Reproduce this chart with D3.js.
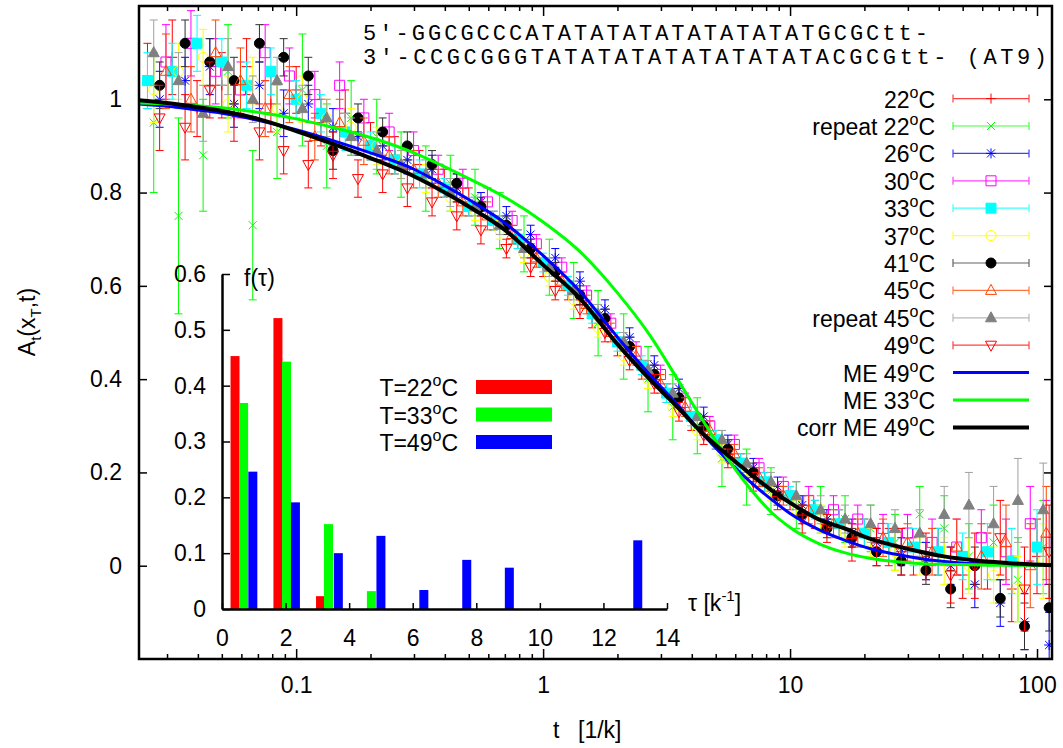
<!DOCTYPE html>
<html>
<head>
<meta charset="utf-8">
<script src="https://cdnjs.cloudflare.com/ajax/libs/d3/7.8.5/d3.min.js"></script>
<style>
body { margin: 0; background: #fff; }
svg { font-family: "Liberation Sans", Arial, sans-serif; }
</style>
</head>
<body>
<div id="plot"></div>
<script>
// time grids (four interleaved log grids, in 1/k)
var tA = [0.025,0.0315,0.0397,0.05,0.063,0.079,0.1,0.126,0.158,0.2,0.251,0.316,0.398,0.5,0.63,0.79,1,1.26,1.58,2,2.51,3.16,3.98,5,6.3,7.9,10,12.6,15.8,20,25.1,31.6,39.8,50,63,79,100];
var tB = [0.028,0.0355,0.0447,0.056,0.071,0.089,0.112,0.141,0.178,0.224,0.282,0.355,0.447,0.56,0.71,0.89,1.12,1.41,1.78,2.24,2.82,3.55,4.47,5.6,7.1,8.9,11.2,14.1,17.8,22.4,28.2,35.5,44.7,56,71,89,112];
var tC = [0.0265,0.0334,0.042,0.053,0.0667,0.0837,0.106,0.133,0.167,0.212,0.266,0.335,0.421,0.53,0.667,0.837,1.06,1.33,1.67,2.12,2.66,3.35,4.21,5.3,6.67,8.37,10.6,13.3,16.7,21.2,26.6,33.5,42.1,53,66.7,83.7,106];
var tD = [0.0297,0.0375,0.0472,0.0595,0.0749,0.0939,0.119,0.15,0.188,0.238,0.299,0.376,0.473,0.595,0.749,0.939,1.19,1.5,1.88,2.38,2.99,3.76,4.73,5.95,7.49,9.39,11.9,15,18.8,23.8,29.9,37.6,47.3,59.5,74.9,93.9,109];

// measured A_t values and error bars per temperature
var y22 = [1.05,1.09,0.98,1.03,1.07,0.99,1.02,0.95,0.97,0.91,0.88,0.86,0.82,0.78,0.74,0.70,0.64,0.59,0.53,0.47,0.42,0.37,0.31,0.27,0.22,0.18,0.14,0.11,0.09,0.07,0.04,0.02,0.03,-0.02,0.01,-0.05,0.02];
var e22 = [0.07,0.08,0.06,0.07,0.06,0.06,0.05,0.05,0.05,0.04,0.04,0.03,0.03,0.03,0.02,0.02,0.02,0.02,0.02,0.02,0.02,0.02,0.02,0.02,0.02,0.02,0.02,0.03,0.03,0.03,0.04,0.04,0.05,0.05,0.06,0.07,0.08];
var y22r = [0.95,0.75,0.88,1.06,0.73,0.93,1.02,0.90,0.96,0.92,0.86,0.83,0.82,0.79,0.74,0.69,0.64,0.59,0.52,0.47,0.40,0.34,0.30,0.23,0.19,0.16,0.13,0.12,0.10,0.08,0.05,0.11,0.08,0.02,0.05,-0.03,0.04];
var e22r = [0.15,0.21,0.12,0.10,0.16,0.10,0.12,0.09,0.08,0.08,0.07,0.07,0.06,0.06,0.06,0.06,0.06,0.06,0.07,0.07,0.07,0.07,0.06,0.06,0.06,0.05,0.05,0.05,0.05,0.05,0.06,0.06,0.07,0.07,0.08,0.09,0.10];
var y26 = [1.00,1.04,1.07,0.99,1.03,0.97,0.99,0.94,0.92,0.90,0.87,0.85,0.81,0.78,0.75,0.71,0.66,0.61,0.55,0.49,0.43,0.38,0.32,0.26,0.21,0.17,0.13,0.10,0.07,0.05,0.03,0.01,0.00,-0.04,-0.08,-0.12,-0.17];
var e26 = [0.06,0.05,0.06,0.05,0.05,0.05,0.04,0.04,0.04,0.03,0.03,0.03,0.03,0.02,0.02,0.02,0.02,0.02,0.02,0.02,0.02,0.02,0.02,0.02,0.02,0.02,0.02,0.02,0.03,0.03,0.03,0.04,0.04,0.05,0.05,0.06,0.07];
var y30 = [1.08,1.12,1.06,1.02,1.10,1.05,1.01,1.03,0.96,0.93,0.89,0.85,0.82,0.78,0.74,0.69,0.64,0.58,0.52,0.46,0.41,0.35,0.30,0.26,0.21,0.17,0.14,0.12,0.10,0.08,0.07,0.05,0.04,0.06,0.03,0.09,0.05];
var e30 = [0.08,0.07,0.07,0.06,0.06,0.06,0.05,0.05,0.04,0.04,0.04,0.03,0.03,0.03,0.02,0.02,0.02,0.02,0.02,0.02,0.02,0.02,0.02,0.02,0.02,0.02,0.03,0.03,0.03,0.03,0.04,0.05,0.06,0.06,0.07,0.08,0.09];
var y33 = [1.04,1.06,1.12,1.08,1.03,1.06,1.00,0.97,0.93,0.90,0.87,0.84,0.81,0.77,0.74,0.70,0.65,0.60,0.54,0.48,0.43,0.37,0.32,0.27,0.22,0.18,0.15,0.12,0.09,0.07,0.05,0.04,0.03,0.02,0.03,0.01,0.04];
var e33 = [0.06,0.06,0.06,0.05,0.05,0.05,0.04,0.04,0.04,0.03,0.03,0.03,0.02,0.02,0.02,0.02,0.02,0.02,0.02,0.02,0.02,0.02,0.02,0.02,0.02,0.02,0.02,0.02,0.03,0.03,0.04,0.04,0.05,0.05,0.06,0.07,0.08];
var y37 = [1.02,1.06,1.09,0.99,1.04,0.98,1.00,0.96,0.94,0.90,0.86,0.83,0.79,0.76,0.72,0.67,0.62,0.57,0.51,0.45,0.40,0.34,0.29,0.24,0.20,0.16,0.12,0.10,0.07,0.05,0.03,0.02,0.01,0.00,-0.02,-0.05,0.01];
var e37 = [0.07,0.06,0.06,0.06,0.05,0.05,0.05,0.04,0.04,0.04,0.03,0.03,0.03,0.02,0.02,0.02,0.02,0.02,0.02,0.02,0.02,0.02,0.02,0.02,0.02,0.02,0.02,0.03,0.03,0.03,0.04,0.04,0.05,0.06,0.06,0.07,0.08];
var y41 = [1.03,1.12,1.08,1.04,1.12,1.09,1.05,0.89,0.96,0.93,0.90,0.86,0.82,0.77,0.73,0.68,0.63,0.58,0.53,0.47,0.41,0.36,0.30,0.25,0.20,0.15,0.11,0.08,0.06,0.03,0.01,-0.01,-0.05,0.00,-0.07,-0.13,-0.09];
var e41 = [0.05,0.05,0.05,0.05,0.04,0.04,0.04,0.04,0.03,0.03,0.03,0.03,0.02,0.02,0.02,0.02,0.02,0.02,0.02,0.02,0.02,0.02,0.02,0.02,0.02,0.02,0.02,0.02,0.02,0.03,0.03,0.03,0.04,0.04,0.04,0.05,0.05];
var y45 = [1.06,1.00,1.10,1.04,0.98,1.01,0.92,0.95,0.91,0.88,0.85,0.82,0.78,0.75,0.71,0.66,0.61,0.56,0.50,0.45,0.39,0.34,0.29,0.24,0.19,0.15,0.12,0.09,0.07,0.06,0.05,0.03,0.04,0.02,0.05,0.00,0.07];
var e45 = [0.08,0.07,0.07,0.07,0.06,0.06,0.05,0.05,0.05,0.04,0.04,0.03,0.03,0.03,0.02,0.02,0.02,0.02,0.02,0.02,0.02,0.02,0.02,0.02,0.02,0.02,0.03,0.03,0.03,0.04,0.04,0.05,0.06,0.07,0.08,0.09,0.10];
var y45r = [1.10,1.04,0.97,1.07,1.00,1.04,0.98,0.96,0.92,0.89,0.86,0.84,0.80,0.77,0.73,0.68,0.64,0.59,0.54,0.48,0.42,0.37,0.32,0.27,0.22,0.18,0.15,0.12,0.10,0.09,0.08,0.07,0.11,0.13,0.09,0.14,0.12];
var e45r = [0.07,0.06,0.06,0.06,0.05,0.05,0.05,0.04,0.04,0.04,0.03,0.03,0.03,0.02,0.02,0.02,0.02,0.02,0.02,0.02,0.02,0.02,0.02,0.02,0.02,0.02,0.03,0.03,0.03,0.04,0.04,0.05,0.06,0.07,0.08,0.09,0.10];
var y49 = [0.96,0.94,1.02,0.97,0.93,0.89,0.86,0.88,0.83,0.84,0.81,0.78,0.75,0.72,0.68,0.64,0.59,0.55,0.50,0.44,0.39,0.33,0.28,0.23,0.18,0.14,0.10,0.08,0.05,0.04,0.03,0.02,-0.02,0.00,0.06,-0.05,0.03];
var e49 = [0.07,0.07,0.06,0.06,0.06,0.05,0.05,0.05,0.04,0.04,0.04,0.03,0.03,0.03,0.02,0.02,0.02,0.02,0.02,0.02,0.02,0.02,0.02,0.02,0.02,0.02,0.03,0.03,0.04,0.04,0.05,0.05,0.06,0.07,0.08,0.09,0.10];

// model curves (multi-exponential fits)
var curveT = [0.023,0.03,0.04,0.05,0.07,0.1,0.14,0.2,0.3,0.4,0.5,0.7,1,1.4,2,2.7,3.5,4.3,5.5,6.9,8.5,10,13,16.6,21,26.5,33,42,55,67,85,115];
var me49 = [0.99,0.985,0.977,0.97,0.955,0.935,0.912,0.885,0.85,0.815,0.785,0.735,0.665,0.59,0.49,0.41,0.345,0.29,0.23,0.18,0.14,0.112,0.078,0.055,0.037,0.025,0.016,0.009,0.004,0.003,0.002,0.001];
var me33 = [0.992,0.99,0.986,0.982,0.972,0.958,0.94,0.918,0.885,0.855,0.83,0.79,0.737,0.675,0.585,0.495,0.40,0.323,0.235,0.165,0.112,0.082,0.048,0.028,0.016,0.009,0.005,0.003,0.002,0.001,0.001,0.001];
var corr49 = [0.998,0.992,0.983,0.975,0.958,0.932,0.905,0.874,0.835,0.80,0.77,0.72,0.645,0.575,0.475,0.40,0.34,0.29,0.24,0.197,0.16,0.135,0.10,0.08,0.058,0.043,0.031,0.02,0.012,0.008,0.004,0.001];

// inset: distribution of relaxation times f(tau)
var tau22 = [0.41,1.76,3.10];
var f22 = [0.453,0.521,0.023];
var tau33 = [0.68,2.03,3.35,4.70];
var f33 = [0.369,0.443,0.152,0.032];
var tau49 = [0.97,2.31,3.66,5.00,6.35,7.70,9.04,13.08];
var f49 = [0.246,0.191,0.100,0.131,0.034,0.088,0.074,0.123];

var seriesLabels = ["22", "repeat 22", "26", "30", "33", "37", "41", "45", "repeat 45", "49"];

var W = 1063, H = 748;
var L = 139, R = 1052, T = 6, B = 659;

var svg = d3.select("#plot").append("svg").attr("width", W).attr("height", H);

var x = d3.scaleLog().domain([0.0231, 115]).range([L, R]);
var y = d3.scaleLinear().domain([-0.2, 1.2]).range([B, T]);

svg.append("defs").append("clipPath").attr("id", "clip")
	.append("rect").attr("x", L).attr("y", T).attr("width", R - L).attr("height", B - T);

// marker shapes
function mk(kind) {
	switch (kind) {
		case "plus": return "M-5,0H5M0,-5V5";
		case "cross": return "M-4,-4L4,4M-4,4L4,-4";
		case "star": return "M-5,0H5M0,-5V5M-4,-4L4,4M-4,4L4,-4";
		case "square": return "M-5,-5H5V5H-5Z";
		case "circle": return "M5,0A5,5 0 1,1 -5,0A5,5 0 1,1 5,0Z";
		case "tri": return "M0,-6L5.5,4H-5.5Z";
		case "itri": return "M0,6L5.5,-4H-5.5Z";
	}
}

var series = [
	{t: tA, y: y22, e: e22, bar: "#ff0000", col: "#ff0000", shape: "plus", fill: false},
	{t: tC, y: y22r, e: e22r, bar: "#00ff00", col: "#00ff00", shape: "cross", fill: false},
	{t: tB, y: y26, e: e26, bar: "#0000ff", col: "#0000ff", shape: "star", fill: false},
	{t: tD, y: y30, e: e30, bar: "#ff00ff", col: "#ff00ff", shape: "square", fill: false},
	{t: tA, y: y33, e: e33, bar: "#00ffff", col: "#00ffff", shape: "square", fill: true},
	{t: tC, y: y37, e: e37, bar: "#ffff00", col: "#ffff00", shape: "circle", fill: false},
	{t: tB, y: y41, e: e41, bar: "#303030", col: "#000000", shape: "circle", fill: true},
	{t: tD, y: y45, e: e45, bar: "#ff4500", col: "#ff4500", shape: "tri", fill: false},
	{t: tC, y: y45r, e: e45r, bar: "#a0a0a0", col: "#808080", shape: "tri", fill: true},
	{t: tB, y: y49, e: e49, bar: "#ff0000", col: "#ff0000", shape: "itri", fill: false}
];

var data = svg.append("g").attr("clip-path", "url(#clip)");

series.forEach(function(s) {
	var g = data.append("g");
	var pts = s.t.map(function(t, i) { return {t: t, v: s.y[i], e: s.e[i]}; });
	g.selectAll(".eb").data(pts).enter().append("path")
		.attr("fill", "none").attr("stroke", s.bar).attr("stroke-width", 1)
		.attr("d", function(d) {
			var px = x(d.t), y0 = y(d.v - d.e), y1 = y(d.v + d.e);
			return "M" + px + "," + y0 + "V" + y1 + "M" + (px - 4) + "," + y0 + "H" + (px + 4) + "M" + (px - 4) + "," + y1 + "H" + (px + 4);
		});
	g.selectAll(".pt").data(pts).enter().append("path")
		.attr("transform", function(d) { return "translate(" + x(d.t) + "," + y(d.v) + ")"; })
		.attr("d", mk(s.shape))
		.attr("fill", s.fill ? s.col : "none")
		.attr("stroke", s.col).attr("stroke-width", 1);
});

// model curves
var line = d3.line().x(function(d) { return x(d[0]); }).y(function(d) { return y(d[1]); }).curve(d3.curveMonotoneX);
var curves = [
	{v: me49, col: "#0000ff", w: 3},
	{v: me33, col: "#00ff00", w: 3},
	{v: corr49, col: "#000000", w: 4}
];
curves.forEach(function(c) {
	data.append("path")
		.datum(curveT.map(function(t, i) { return [t, c.v[i]]; }))
		.attr("fill", "none").attr("stroke", c.col).attr("stroke-width", c.w)
		.attr("d", line);
});

// axes
var majorX = [0.1, 1, 10, 100];
var minorX = [];
[0.01, 0.1, 1, 10].forEach(function(dec) {
	for (var k = 2; k <= 9; k++) {
		var v = dec * k;
		if (v > 0.0231 && v < 115) minorX.push(v);
	}
});

function styleAxis(g) {
	g.select(".domain").remove();
	g.selectAll("line").attr("stroke", "#000").attr("stroke-width", 1.5);
	g.selectAll("text").attr("font-size", 23).attr("fill", "#000").attr("font-family", "Liberation Sans, Arial, sans-serif");
}

svg.append("g").attr("transform", "translate(0," + B + ")")
	.call(d3.axisBottom(x).tickValues(majorX).tickSize(-10).tickPadding(18).tickFormat(d3.format("~g")))
	.call(styleAxis);
svg.append("g").attr("transform", "translate(0," + B + ")")
	.call(d3.axisBottom(x).tickValues(minorX).tickSize(-5).tickFormat(""))
	.call(styleAxis);
svg.append("g").attr("transform", "translate(0," + T + ")")
	.call(d3.axisTop(x).tickValues(majorX).tickSize(-10).tickFormat(""))
	.call(styleAxis);
svg.append("g").attr("transform", "translate(0," + T + ")")
	.call(d3.axisTop(x).tickValues(minorX).tickSize(-5).tickFormat(""))
	.call(styleAxis);

var yTicks = [0, 0.2, 0.4, 0.6, 0.8, 1];
svg.append("g").attr("transform", "translate(" + L + ",0)")
	.call(d3.axisLeft(y).tickValues(yTicks).tickSize(-8).tickPadding(17).tickFormat(d3.format("~g")))
	.call(styleAxis);
svg.append("g").attr("transform", "translate(" + R + ",0)")
	.call(d3.axisRight(y).tickValues(yTicks).tickSize(-8).tickFormat(""))
	.call(styleAxis);

svg.append("rect").attr("x", L).attr("y", T).attr("width", R - L).attr("height", B - T)
	.attr("fill", "none").attr("stroke", "#000").attr("stroke-width", 2.5);

// axis titles
svg.append("text").attr("x", 553).attr("y", 738).attr("font-size", 23)
	.call(function(t) {
		t.append("tspan").text("t");
		t.append("tspan").attr("x", 578).text("[1/k]");
	});

var yl = svg.append("text").attr("transform", "translate(35,322) rotate(-90)")
	.attr("text-anchor", "middle").attr("font-size", 23);
yl.append("tspan").text("A");
yl.append("tspan").attr("font-size", 15).attr("dy", 6).text("t");
yl.append("tspan").attr("dy", -6).text("(x");
yl.append("tspan").attr("font-size", 15).attr("dy", 6).text("T");
yl.append("tspan").attr("dy", -6).text(",t)");

// sequence annotation
var seq = svg.append("g").attr("font-family", "Liberation Mono, monospace").attr("font-size", 22);
seq.append("text").attr("x", 363).attr("y", 40).attr("textLength", 565).attr("lengthAdjust", "spacing")
	.text("5\u2032-GGCGCCCATATATATATATATATATGCGCtt-");
seq.append("text").attr("x", 363).attr("y", 64).attr("textLength", 684).attr("lengthAdjust", "spacing")
	.attr("xml:space", "preserve")
	.text("3\u2032-CCGCGGGTATATATATATATATATACGCGtt- (AT9)");

// label with raised "o" before the C
function degLabel(sel, pre) {
	sel.append("tspan").text(pre);
	sel.append("tspan").attr("font-size", 16).attr("dy", -10).text("o");
	sel.append("tspan").attr("dy", 10).text("C");
}

// main legend
var legX0 = 953, legX1 = 1029, legTx = 935, leg0 = 98.6, legDy = 27.4;
var leg = svg.append("g");
series.forEach(function(s, i) {
	var ly = leg0 + legDy * i;
	var g = leg.append("g");
	g.append("path").attr("fill", "none").attr("stroke", s.bar).attr("stroke-width", 1.2).attr("stroke-opacity", 0.75)
		.attr("d", "M" + legX0 + "," + ly + "H" + legX1 + "M" + legX0 + "," + (ly - 4) + "V" + (ly + 4) + "M" + legX1 + "," + (ly - 4) + "V" + (ly + 4));
	g.append("path").attr("transform", "translate(" + (legX0 + legX1) / 2 + "," + ly + ")")
		.attr("d", mk(s.shape)).attr("fill", s.fill ? s.col : "none").attr("stroke", s.col);
	var tx = g.append("text").attr("x", legTx).attr("y", ly + 9).attr("text-anchor", "end").attr("font-size", 23);
	degLabel(tx, seriesLabels[i]);
});
var curveLabels = ["ME 49", "ME 33", "corr ME 49"];
curves.forEach(function(c, j) {
	var ly = leg0 + legDy * (10 + j);
	leg.append("line").attr("x1", legX0).attr("x2", legX1).attr("y1", ly).attr("y2", ly)
		.attr("stroke", c.col).attr("stroke-width", c.w);
	var tx = leg.append("text").attr("x", legTx).attr("y", ly + 9).attr("text-anchor", "end").attr("font-size", 23);
	degLabel(tx, curveLabels[j]);
});

// inset histogram
var xi = d3.scaleLinear().domain([0, 14]).range([222, 667]);
var yi = d3.scaleLinear().domain([0, 0.6]).range([609, 274]);
var inset = svg.append("g");

var bars = [
	{tau: tau22, f: f22, col: "#ff0000"},
	{tau: tau33, f: f33, col: "#00ff00"},
	{tau: tau49, f: f49, col: "#0000ff"}
];
bars.forEach(function(b) {
	inset.selectAll(null).data(b.tau).enter().append("rect")
		.attr("x", function(d) { return xi(d) - 4.5; })
		.attr("width", 9)
		.attr("y", function(d, i) { return yi(b.f[i]); })
		.attr("height", function(d, i) { return yi(0) - yi(b.f[i]); })
		.attr("fill", b.col);
});

function styleInset(g) {
	g.select(".domain").attr("stroke", "#000").attr("stroke-width", 2.5);
	g.selectAll("line").attr("stroke", "#000").attr("stroke-width", 1.5);
	g.selectAll("text").attr("font-size", 23).attr("fill", "#000").attr("font-family", "Liberation Sans, Arial, sans-serif");
}
inset.append("g").attr("transform", "translate(0,609)")
	.call(d3.axisBottom(xi).tickValues([0, 2, 4, 6, 8, 10, 12, 14]).tickSize(-6).tickSizeOuter(0).tickPadding(21))
	.call(styleInset);
inset.append("g").attr("transform", "translate(222,0)")
	.call(d3.axisLeft(yi).tickValues([0, 0.1, 0.2, 0.3, 0.4, 0.5, 0.6]).tickSize(-8).tickSizeOuter(0).tickPadding(16).tickFormat(d3.format("~g")))
	.call(styleInset);

inset.append("text").attr("x", 244).attr("y", 286).attr("font-size", 23).text("f(\u03c4)");
var tl = inset.append("text").attr("x", 688).attr("y", 611).attr("font-size", 23);
tl.append("tspan").text("\u03c4 [k");
tl.append("tspan").attr("font-size", 15).attr("dy", -10).text("-1");
tl.append("tspan").attr("dy", 10).text("]");

// inset legend
var iLeg = ["T=22", "T=33", "T=49"];
bars.forEach(function(b, i) {
	var ly = 387 + 27.5 * i;
	inset.append("rect").attr("x", 476).attr("y", ly - 7).attr("width", 76).attr("height", 14).attr("fill", b.col);
	var tx = inset.append("text").attr("x", 458).attr("y", ly + 9).attr("text-anchor", "end").attr("font-size", 23);
	degLabel(tx, iLeg[i]);
});
</script>
</body>
</html>
